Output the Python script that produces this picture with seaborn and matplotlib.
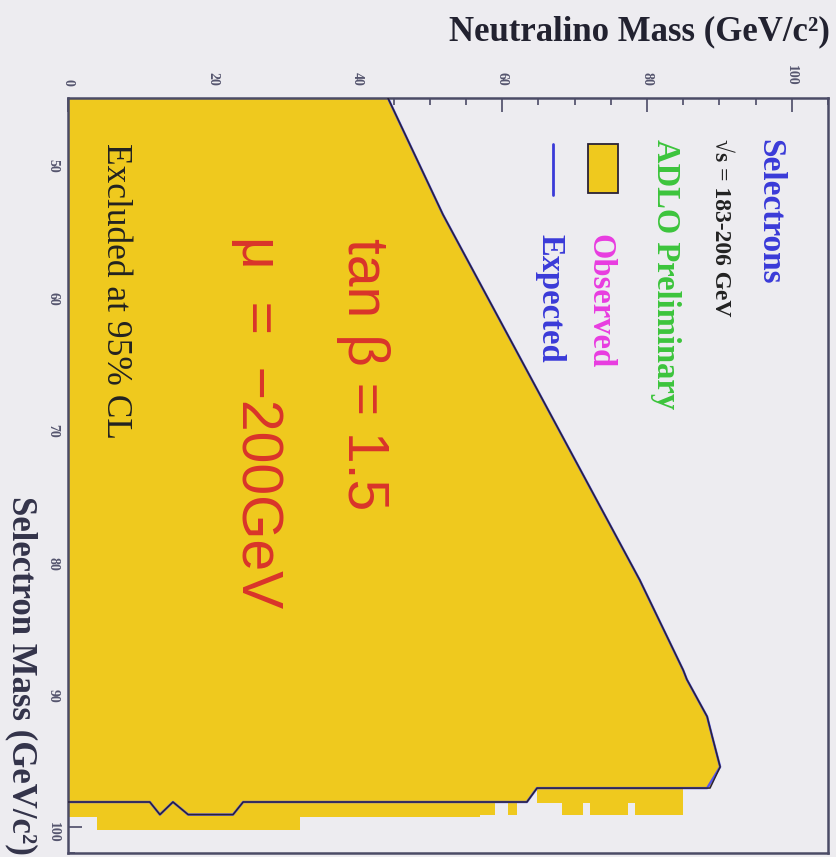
import matplotlib
matplotlib.use("Agg")
import matplotlib.pyplot as plt
from matplotlib.patches import Rectangle
from matplotlib.ticker import MultipleLocator
import pandas as pd
import seaborn as sns

# Observed 95% CL contour in the (neutralino, selectron) mass plane
obs_neutralino = [43.3, 44.2, 51.8, 79.0, 85.0, 85.5, 88.3, 89.0, 90.1, 88.7,
                  64.8, 63.4, 24.2, 22.8, 16.6, 14.5, 12.7, 11.3, 0.0]
obs_selectron = [44.0, 45.0, 53.8, 81.4, 88.2, 88.9, 91.7, 93.2, 95.5, 97.1,
                 97.1, 98.15, 98.15, 99.1, 99.1, 98.15, 99.1, 98.15, 98.15]

# Expected contour
exp_neutralino = [43.3, 44.2, 51.8, 79.0, 85.0, 85.5, 88.3, 89.0, 90.1, 88.3,
                  64.8, 63.4, 24.2, 22.8, 16.6, 14.5, 12.7, 11.3, 0.0]
exp_selectron = [44.0, 45.0, 53.8, 81.4, 88.2, 88.9, 91.7, 93.2, 95.5, 97.1,
                 97.1, 98.15, 98.15, 99.1, 99.1, 98.15, 99.1, 98.15, 98.15]

# Additional excluded grid cells near the high selectron mass edge
cell_x0 = [0.0, 4.0, 32.1, 56.9, 60.8, 64.8, 68.3, 72.1, 78.3]
cell_x1 = [4.0, 32.1, 56.9, 59.0, 62.0, 85.0, 71.2, 77.4, 85.0]
cell_y0 = [98.15, 98.15, 98.15, 98.15, 98.15, 97.1, 98.15, 98.15, 98.15]
cell_y1 = [99.3, 100.3, 99.3, 99.1, 99.1, 98.2, 99.1, 99.1, 99.1]

x_ticks = [0, 20, 40, 60, 80, 100]
y_ticks = [50, 60, 70, 80, 90, 100]

YELLOW = "#EFC91E"
BG = "#EDECF0"
FRAME = "#4B4B66"

sns.set_theme(style="ticks")
plt.rcParams["font.family"] = ["Liberation Serif", "DejaVu Serif"]

fig = plt.figure(figsize=(8.36, 8.57), dpi=100, facecolor=BG)
ax = fig.add_axes([68 / 836, 1 - 853 / 857, 760 / 836, 755 / 857])
ax.set_facecolor(BG)

# Excluded region
poly_x = obs_neutralino + [0.0]
poly_y = obs_selectron + [obs_selectron[0]]
ax.fill(poly_x, poly_y, color=YELLOW, lw=0, zorder=1)
for x0, x1, y0, y1 in zip(cell_x0, cell_x1, cell_y0, cell_y1):
    ax.fill_between([x0, x1], [y0, y0], [y1, y1], color=YELLOW, lw=0, zorder=1)

exp_df = pd.DataFrame({"neutralino": exp_neutralino, "selectron": exp_selectron})
obs_df = pd.DataFrame({"neutralino": obs_neutralino, "selectron": obs_selectron})
sns.lineplot(data=exp_df, x="neutralino", y="selectron", sort=False, estimator=None,
             color="#5555EE", lw=1.7, ax=ax, zorder=2)
sns.lineplot(data=obs_df, x="neutralino", y="selectron", sort=False, estimator=None,
             color="#2A2235", lw=1.1, ax=ax, zorder=3)

ax.set_xlim(0, 105)
ax.set_ylim(102, 45)
ax.xaxis.tick_top()
ax.set_xticks(x_ticks)
ax.set_yticks(y_ticks)
ax.xaxis.set_minor_locator(MultipleLocator(5))
ax.yaxis.set_minor_locator(MultipleLocator(2))
ax.tick_params(axis="both", which="both", direction="in", top=True, bottom=False,
               left=True, right=False, color=FRAME, width=1.2, labelcolor="#55556E",
               labelsize=10)
ax.tick_params(axis="both", which="major", length=10)
ax.tick_params(axis="both", which="minor", length=5)
ax.tick_params(axis="x", labelrotation=270, pad=9)
ax.tick_params(axis="y", labelrotation=270, pad=6)
for lab in ax.get_xticklabels() + ax.get_yticklabels():
    lab.set_fontweight("bold")
for sp in ax.spines.values():
    sp.set_color(FRAME)
    sp.set_linewidth(1.8)

ax.set_xlabel("Neutralino Mass (GeV/c²)", fontsize=25, fontweight="bold",
              color="#222230", ha="right", va="center")
ax.xaxis.set_label_position("top")
ax.xaxis.set_label_coords(1.003, 1.077)
ax.set_ylabel("Selectron Mass (GeV/c²)", fontsize=25, fontweight="bold",
              color="#33334A", rotation=270, rotation_mode="default",
              ha="center", va="bottom")
ax.yaxis.set_label_coords(-0.061, -0.003)

# Legend block
ax.text(97.0, 48.1, "Selectrons", rotation=270, ha="center", va="top",
        fontsize=24, fontweight="bold", color="#3A3AD8")
ax.text(90.1, 48.1, "√s = 183-206 GeV", rotation=270, ha="center", va="top",
        fontsize=17, fontweight="bold", color="#222222")
ax.text(82.5, 48.1, "ADLO Preliminary", rotation=270, ha="center", va="top",
        fontsize=23.5, fontweight="bold", color="#3CC43C")
ax.add_patch(Rectangle((71.8, 48.5), 4.2, 3.7, facecolor=YELLOW,
                       edgecolor="#2A2235", lw=1.3, zorder=4))
ax.text(73.5, 55.3, "Observed", rotation=270, ha="center", va="top",
        fontsize=23.5, fontweight="bold", color="#E83CE0")
sns.lineplot(x=[67.0, 67.0], y=[48.5, 52.3], sort=False, estimator=None,
             color="#3A3AD8", lw=2, ax=ax)
ax.text(66.6, 55.3, "Expected", rotation=270, ha="center", va="top",
        fontsize=23.5, fontweight="bold", color="#3A3AD8")

# Parameter annotation
ax.text(40.7, 55.6, "tan \u03b2 = 1.5", rotation=270, ha="center", va="top",
        fontsize=41, color="#D9342B", family=["Liberation Sans", "DejaVu Sans"])
ax.text(26.1, 55.4, "\u03bc  =  \u2212200GeV", rotation=270, ha="center", va="top",
        fontsize=41, color="#D9342B", family=["Liberation Sans", "DejaVu Sans"])

ax.text(6.5, 48.4, "Excluded at 95% CL", rotation=270, ha="center", va="top",
        fontsize=25.5, color="#222222")

fig.savefig("out.png", dpi=100, facecolor=BG)
